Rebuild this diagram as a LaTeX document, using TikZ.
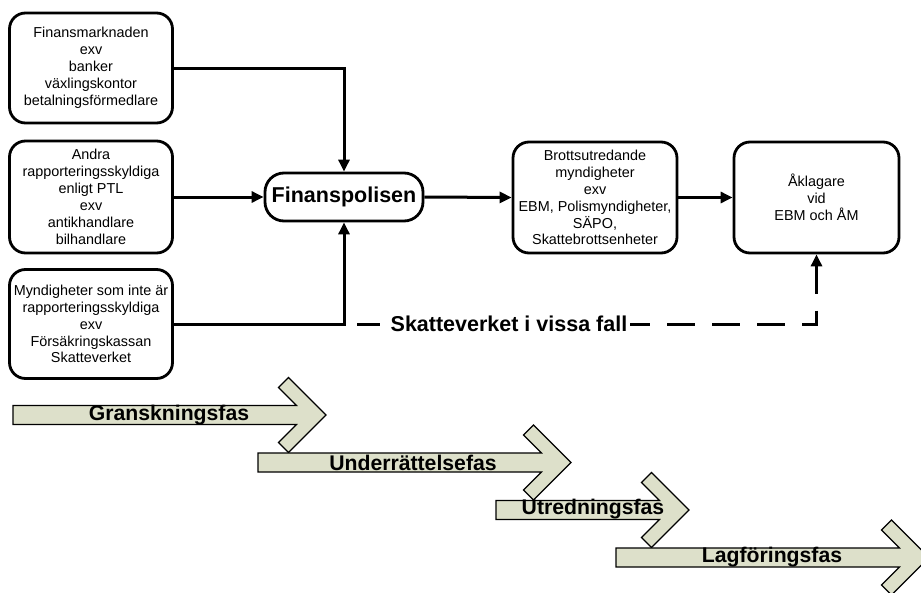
\documentclass[tikz,border=0pt]{standalone}
\usepackage{fontspec}
\setmainfont{Liberation Sans}
\usetikzlibrary{arrows.meta}
\definecolor{phasefill}{RGB}{221,224,202}
\newcommand\phasearr[3]{% left x, centre y, tip x
  \filldraw[phase] (#1,#2-9.5) -- (#3-29.5,#2-9.5) -- (#3-47.5,#2-27.5) -- (#3-37.5,#2-37.5)
    -- (#3,#2) -- (#3-37.5,#2+37.5) -- (#3-47.5,#2+27.5) -- (#3-29.5,#2+9.5) -- (#1,#2+9.5) -- cycle;}
\begin{document}
\begin{tikzpicture}[x=1pt,y=-1pt,
  box/.style={draw, line width=2.8pt, rounded corners=16pt, align=center,
    font=\fontsize{14.4}{16.9}\selectfont, minimum width=163pt, minimum height=110pt, inner sep=1pt},
  conn/.style={line width=3pt, -{Triangle[length=12pt,width=11pt]}},
  dconn/.style={line width=3pt, dash pattern=on 28pt off 17pt, {Triangle[length=12pt,width=11pt]}-},
  phase/.style={fill=phasefill, draw=black, line width=1.2pt},
  phaselabel/.style={font=\fontsize{21.2}{24}\selectfont\bfseries, inner sep=0pt}]
\useasboundingbox (0,0) rectangle (921,592);
\clip (0,0) rectangle (921,592);

% boxes
\node[box] (b1) at (91,68) {Finansmarknaden\\exv\\banker\\växlingskontor\\betalningsförmedlare};
\node[box, minimum height=112pt] (b2) at (91,197) {Andra\\rapporteringsskyldiga\\enligt PTL\\exv\\antikhandlare\\bilhandlare};
\node[box, minimum height=109pt] (b3) at (91,324) {Myndigheter som inte är\\rapporteringsskyldiga\\exv\\Försäkringskassan\\Skatteverket};
\node[draw, line width=2.8pt, rounded corners=19pt, minimum width=158pt, minimum height=48pt,
  font=\fontsize{21.5}{25}\selectfont\bfseries, inner sep=1pt] (fp) at (344,197) {Finanspolisen};
\node[box, minimum width=164pt, minimum height=111pt] (b4) at (595,197.5) {Brottsutredande\\myndigheter\\exv\\EBM, Polismyndigheter,\\SÄPO,\\Skattebrottsenheter};
\node[box, minimum width=165pt, minimum height=111pt] (b5) at (816.5,197.5) {Åklagare\\vid\\EBM och ÅM};

% connectors
\draw[conn] (b1.east) -| (fp.north);
\draw[conn] (b2.east) -- (fp.west);
\draw[conn] (b3.east) -| (fp.south);
\draw[conn] (fp.east) -- (b4.west);
\draw[conn] (b4.east) -- (b5.west);
\coordinate (ds) at (357,324);
\draw[dconn] (b5.south) |- (ds);
\node[fill=white, inner xsep=3pt, inner ysep=2pt, font=\fontsize{21.5}{24}\selectfont\bfseries] (sk) at (509,324) {Skatteverket i vissa fall};

% phase arrows
\phasearr{13}{415}{326}
\phasearr{258}{462.5}{571}
\phasearr{496}{510}{689}
\phasearr{616}{557.5}{929}
\node[phaselabel] (p1) at (169,415) {Granskningsfas};
\node[phaselabel] (p2) at (413,462.5) {Underrättelsefas};
\node[phaselabel] (p3) at (593,509) {Utredningsfas};
\node[phaselabel] (p4) at (772,557) {Lagföringsfas};
\end{tikzpicture}
\end{document}
